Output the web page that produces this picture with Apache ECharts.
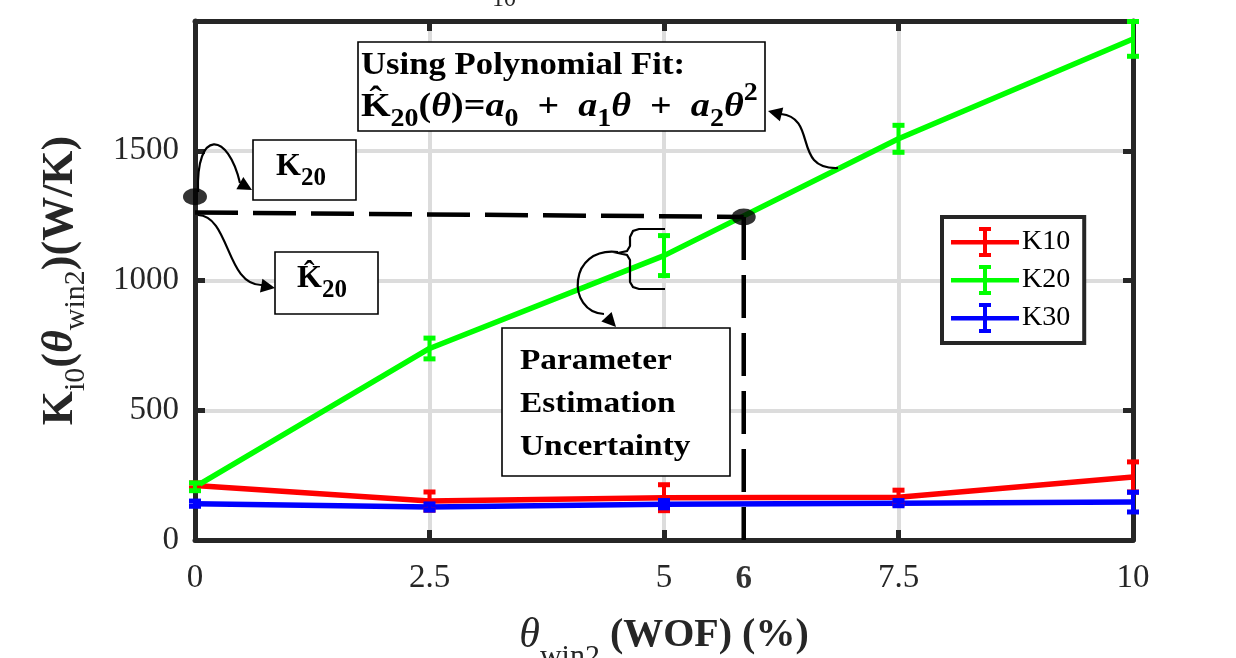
<!DOCTYPE html>
<html>
<head>
<meta charset="utf-8">
<script src="https://cdn.jsdelivr.net/npm/echarts@6/dist/echarts.min.js"></script>
<style>
  html, body { margin: 0; padding: 0; background: #fff; }
  #main { width: 1236px; height: 658px; }
</style>
</head>
<body>
<div id="main"></div>
<script>
// WOF (%) on x, conductance (W/K) on y
const wof = [0, 2.5, 5, 7.5, 10];
const k10 = [210, 150, 163, 165, 243];
const k10Err = [10, 35, 50, 27, 58];
const k20 = [205, 738, 1096, 1546, 1931];
const k20Err = [15, 40, 77, 52, 67];
const k30 = [140, 127, 138, 142, 146];
const k30Err = [10, 12, 14, 10, 38];

// guide marks of the annotation
const guideX = 5.85;
const k20Measured = [[0, 1323]];
const k20Estimated = [[guideX, 1245]];
const guideH = [[0, 1262], [guideX, 1245]];
const guideV = [[guideX, 1245], [guideX, 0]];

const SERIF = '"Liberation Serif", "DejaVu Serif", serif';
const AXIS = '#262626';
const RED = '#ff0000', GREEN = '#00ff00', BLUE = '#0000ff';
const EN = '\u2002';

const pts = (ys, errs) => wof.map((x, i) => errs ? [x, ys[i], errs[i]] : [x, ys[i]]);

// error bar with caps
function errRender(color) {
  return function (params, api) {
    const x = api.value(0), y = api.value(1), e = api.value(2);
    const top = api.coord([x, y + e]);
    const bot = api.coord([x, y - e]);
    const hw = 6;
    return {
      type: 'group',
      children: [
        { type: 'line', shape: { x1: top[0], y1: top[1], x2: bot[0], y2: bot[1] }, style: { stroke: color, lineWidth: 4 } },
        { type: 'line', shape: { x1: top[0] - hw, y1: top[1], x2: top[0] + hw, y2: top[1] }, style: { stroke: color, lineWidth: 5 } },
        { type: 'line', shape: { x1: bot[0] - hw, y1: bot[1], x2: bot[0] + hw, y2: bot[1] }, style: { stroke: color, lineWidth: 5 } }
      ]
    };
  };
}

function lineSeries(name, ys, color) {
  return {
    name: name, type: 'line', data: pts(ys), showSymbol: false, symbol: 'none',
    color: color, lineStyle: { color: color, width: 5.5 }, z: 3
  };
}
function errSeries(name, ys, errs, color) {
  return {
    name: name + ' err', type: 'custom', data: pts(ys, errs), renderItem: errRender(color),
    clip: false, z: 4, silent: true
  };
}

// legend icon: line with error bar
const ICON = 'path://M0,13 H68 V17.5 H0 Z M32,2 H36 V28 H32 Z M28,0 H40 V4 H28 Z M28,26 H40 V30 H28 Z';

function arrowHead(tip, from, len, half) {
  const dx = tip[0] - from[0], dy = tip[1] - from[1];
  const d = Math.hypot(dx, dy), ux = dx / d, uy = dy / d;
  const bx = tip[0] - ux * len, by = tip[1] - uy * len;
  return {
    type: 'polygon', silent: true, z: 20,
    shape: { points: [tip, [bx - uy * half, by + ux * half], [bx + uy * half, by - ux * half]] },
    style: { fill: '#000' }
  };
}
function curve(x1, y1, cpx1, cpy1, cpx2, cpy2, x2, y2) {
  return {
    type: 'bezierCurve', silent: true, z: 20,
    shape: { x1, y1, cpx1, cpy1, cpx2, cpy2, x2, y2 },
    style: { stroke: '#000', lineWidth: 2.2, fill: null }
  };
}
function box(x, y, w, h) {
  return { type: 'rect', silent: true, z: 15, shape: { x, y, width: w, height: h },
    style: { fill: '#fff', stroke: '#000', lineWidth: 1.6 } };
}

function mathRich(size, sub) {
  return {
    m: { fontFamily: SERIF, fontWeight: 'bold', fontSize: size, lineHeight: size + 4, verticalAlign: 'middle', fill: '#000' },
    i: { fontFamily: SERIF, fontWeight: 'bold', fontStyle: 'italic', fontSize: size, lineHeight: size + 4, verticalAlign: 'middle', fill: '#000' },
    s: { fontFamily: SERIF, fontWeight: 'bold', fontSize: sub, lineHeight: sub, padding: [size - 8, 0, 0, 0], verticalAlign: 'middle', fill: '#000' },
    p: { fontFamily: SERIF, fontWeight: 'bold', fontSize: sub, lineHeight: sub, padding: [0, 0, size - 8, 0], verticalAlign: 'middle', fill: '#000' }
  };
}

const chart = echarts.init(document.getElementById('main'), null, { renderer: 'canvas' });

const option = {
  backgroundColor: '#fff',
  animation: false,
  grid: { left: 195, right: 103, top: 21, bottom: 118, containLabel: false, outerBoundsMode: 'none' },
  legend: {
    data: ['K10', 'K20', 'K30'],
    orient: 'vertical',
    left: 942, top: 217,
    icon: ICON,
    itemWidth: 68, itemHeight: 30, itemGap: 8,
    padding: [10, 14, 10, 9],
    backgroundColor: '#fff',
    borderColor: AXIS, borderWidth: 4, borderRadius: 0,
    textStyle: { fontFamily: SERIF, fontSize: 28, color: '#000', padding: [0, 0, 0, -2] },
    selectedMode: false
  },
  xAxis: [{
    type: 'value', min: 0, max: 10, interval: 2.5, position: 'bottom',
    axisLine: { show: true, onZero: false, lineStyle: { color: AXIS, width: 5 } },
    axisTick: { show: true, inside: true, length: 10, lineStyle: { color: AXIS, width: 5 } },
    axisLabel: { fontFamily: SERIF, fontSize: 33, color: AXIS, margin: 22 },
    splitLine: { show: true, lineStyle: { color: '#dcdcdc', width: 4 } },
    name: '{t|θ}{s|win2}{m| (WOF) (%)}',
    nameLocation: 'middle', nameGap: 61,
    nameTextStyle: {
      rich: {
        m: { fontFamily: SERIF, fontWeight: 'bold', fontSize: 40, lineHeight: 44, verticalAlign: 'middle', color: AXIS },
        t: { fontFamily: SERIF, fontStyle: 'italic', fontSize: 42, lineHeight: 44, verticalAlign: 'middle', color: AXIS },
        s: { fontFamily: SERIF, fontSize: 30, lineHeight: 30, padding: [42, 0, 0, 0], verticalAlign: 'middle', color: AXIS }
      }
    }
  }, {
    type: 'value', min: 0, max: 10, interval: 2.5, position: 'top',
    axisLine: { show: true, onZero: false, lineStyle: { color: AXIS, width: 5 } },
    axisTick: { show: true, inside: true, length: 10, lineStyle: { color: AXIS, width: 5 } },
    axisLabel: { show: false }, splitLine: { show: false }
  }],
  yAxis: [{
    type: 'value', min: 0, max: 2000, interval: 500, position: 'left',
    axisLine: { show: true, onZero: false, lineStyle: { color: AXIS, width: 5 } },
    axisTick: { show: true, inside: true, length: 10, lineStyle: { color: AXIS, width: 5 } },
    axisLabel: { fontFamily: SERIF, fontSize: 33, color: AXIS, margin: 16,
      formatter: v => (v === 2000 ? '' : String(v)) },
    splitLine: { show: true, lineStyle: { color: '#dcdcdc', width: 4 } },
    name: '{m|K}{s|i0}{m|(}{t|θ}{s|win2}{m|)(W/K)}',
    nameLocation: 'middle', nameGap: 110,
    nameTextStyle: {
      rich: {
        m: { fontFamily: SERIF, fontWeight: 'bold', fontSize: 44, lineHeight: 48, verticalAlign: 'middle', color: AXIS },
        t: { fontFamily: SERIF, fontWeight: 'bold', fontStyle: 'italic', fontSize: 44, lineHeight: 48, verticalAlign: 'middle', color: AXIS },
        s: { fontFamily: SERIF, fontSize: 30, lineHeight: 30, padding: [30, 0, 0, 0], verticalAlign: 'middle', color: AXIS }
      }
    }
  }, {
    type: 'value', min: 0, max: 2000, interval: 500, position: 'right',
    axisLine: { show: true, onZero: false, lineStyle: { color: AXIS, width: 5 } },
    axisTick: { show: true, inside: true, length: 10, lineStyle: { color: AXIS, width: 5 } },
    axisLabel: { show: false }, splitLine: { show: false }
  }],
  series: [
    lineSeries('K10', k10, RED),
    errSeries('K10', k10, k10Err, RED),
    lineSeries('K20', k20, GREEN),
    errSeries('K20', k20, k20Err, GREEN),
    lineSeries('K30', k30, BLUE),
    errSeries('K30', k30, k30Err, BLUE),
    {
      name: 'guideH', type: 'line', data: guideH, symbol: 'none', silent: true, z: 5,
      lineStyle: { color: '#000', width: 4.5, type: [43, 15] }
    },
    {
      name: 'guideV', type: 'line', data: guideV, symbol: 'none', silent: true, z: 5,
      lineStyle: { color: '#000', width: 4.5, type: [43, 15] }
    },
    {
      name: 'dots', type: 'scatter', data: k20Measured.concat(k20Estimated), silent: true, z: 8,
      symbol: 'circle', symbolSize: [24, 17], itemStyle: { color: '#000' }
    },
    {
      name: 'tick6', type: 'scatter', data: [[guideX, 0]], silent: true, symbolSize: 1,
      itemStyle: { color: 'transparent' },
      label: { show: true, position: 'bottom', distance: 22, formatter: '6',
        fontFamily: SERIF, fontWeight: 'bold', fontSize: 33, color: '#000' }
    }
  ],
  graphic: [
    // cut-off title fragment at the very top
    { type: 'text', x: 492, y: -12, silent: true,
      style: { text: '10', fontFamily: SERIF, fontSize: 24, fill: AXIS } },

    // formula box
    box(358, 42, 407, 89),
    { type: 'text', x: 361, y: 50, scaleX: 1.12, z: 16, silent: true,
      style: { text: 'Using Polynomial Fit:', fontFamily: SERIF, fontWeight: 'bold', fontSize: 31, fill: '#000' } },
    { type: 'text', x: 361, y: 88, scaleX: 1.12, z: 16, silent: true,
      style: {
        text: '{m|K̂}{s|20}{m|(}{i|θ}{m|)=}{i|a}{s|0}{m|' + EN + '+' + EN + '}{i|a}{s|1}{i|θ}{m|' + EN + '+' + EN + '}{i|a}{s|2}{i|θ}{p|2}',
        rich: mathRich(34, 25)
      } },

    // K20 box
    box(253, 140, 103, 60),
    { type: 'text', x: 276, y: 149, z: 16, silent: true,
      style: { text: '{m|K}{s|20}', rich: mathRich(32, 25) } },

    // K20 hat box
    box(275, 252, 103, 62),
    { type: 'text', x: 297, y: 261, z: 16, silent: true,
      style: { text: '{m|K̂}{s|20}', rich: mathRich(32, 25) } },

    // uncertainty box
    box(502, 328, 228, 148),
    { type: 'text', x: 520, y: 340, scaleX: 1.15, z: 16, silent: true,
      style: { text: 'Parameter\nEstimation\nUncertainty', fontFamily: SERIF, fontWeight: 'bold',
        fontSize: 29, lineHeight: 43, fill: '#000' } },

    // arrow: measured point -> K20 box
    curve(198, 192, 196, 128, 228, 132, 240, 183),
    arrowHead([252, 190], [238, 182], 14, 7),

    // arrow: dashed line -> K20 hat box
    curve(198, 215, 230, 216, 226, 286, 262, 285),
    arrowHead([275, 288], [258, 285], 14, 7),

    // arrow: fitted line -> formula box
    curve(838, 168, 792, 170, 818, 118, 781, 114),
    arrowHead([768, 111], [784, 115], 14, 7),

    // brace around the error bar at 5 %
    { type: 'polyline', silent: true, z: 20,
      shape: { points: [[665, 229], [639, 229], [633, 231], [630, 237], [630, 246], [627, 251], [618, 253],
        [627, 255], [630, 260], [630, 282], [633, 287], [639, 289], [665, 289]] },
      style: { stroke: '#000', lineWidth: 2.2, fill: null } },
    // arrow: brace -> uncertainty box
    curve(618, 252, 568, 246, 566, 312, 604, 314),
    arrowHead([616, 327], [603, 313], 14, 7)
  ]
};

chart.setOption(option);
</script>
</body>
</html>
